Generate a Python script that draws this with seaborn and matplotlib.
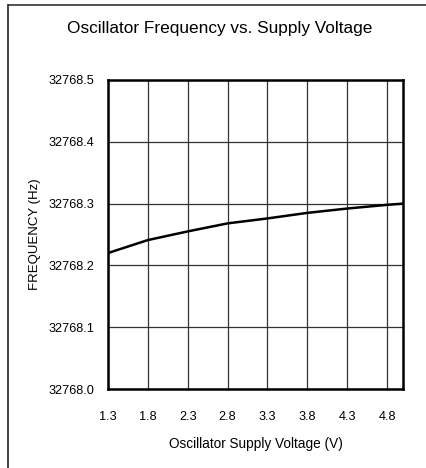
import matplotlib
matplotlib.use("Agg")
import matplotlib.pyplot as plt
import seaborn as sns
import pandas as pd
from matplotlib.lines import Line2D

voltage = [1.3, 1.8, 2.3, 2.8, 3.3, 3.8, 4.3, 4.8, 5.0]
frequency = [32768.220, 32768.241, 32768.255, 32768.268, 32768.276, 32768.285, 32768.292, 32768.298, 32768.300]
x_ticks = [1.3, 1.8, 2.3, 2.8, 3.3, 3.8, 4.3, 4.8]
y_ticks = [32768.0, 32768.1, 32768.2, 32768.3, 32768.4, 32768.5]

sns.set_style("white")
plt.rcParams['font.family'] = ['Liberation Sans', 'DejaVu Sans']
plt.rcParams['text.color'] = 'black'
plt.rcParams['axes.labelcolor'] = 'black'
plt.rcParams['xtick.color'] = 'black'
plt.rcParams['ytick.color'] = 'black'

fig = plt.figure(figsize=(4.27, 4.68), dpi=100)
ax = fig.add_axes([108/427, 1-389/468, (403-108)/427, (389-80)/468])

df = pd.DataFrame({"V": voltage, "F": frequency})
sns.lineplot(data=df, x="V", y="F", ax=ax, color="black", linewidth=1.8)

ax.set_xlim(1.3, 5.0)
ax.set_ylim(32768.0, 32768.5)
ax.set_xticks(x_ticks)
ax.set_xticklabels([f"{v:.1f}" for v in x_ticks], fontsize=9.2)
ax.set_yticks(y_ticks)
ax.set_yticklabels([f"{v:.1f}" for v in y_ticks], fontsize=9.2)
ax.tick_params(axis='x', length=0, pad=16)
ax.tick_params(axis='y', length=0, pad=10)
ax.grid(True, color="#333333", linewidth=0.9)
for s in ax.spines.values():
    s.set_visible(True)
    s.set_color("black")
    s.set_linewidth(1.8)

ax.set_xlabel("Oscillator Supply Voltage (V)", fontsize=9.8, labelpad=10)
ax.set_ylabel("FREQUENCY (Hz)", fontsize=9.5, labelpad=5)
fig.text(220/427, 1-29/468, "Oscillator Frequency vs. Supply Voltage", fontsize=12.4, ha="center", va="center")

fig.add_artist(Line2D([8/427, 1.0], [1-5/468, 1-5/468], color="#333333", linewidth=1.2, transform=fig.transFigure))
fig.add_artist(Line2D([8/427, 8/427], [0, 1-5/468], color="#222222", linewidth=1.2, transform=fig.transFigure))

fig.savefig("out.png", dpi=100)
